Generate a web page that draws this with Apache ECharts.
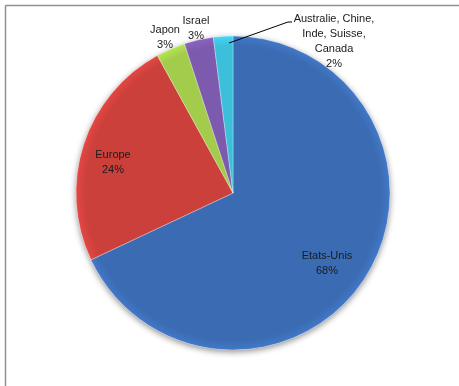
<!DOCTYPE html>
<html>
<head>
<meta charset="utf-8">
<script src="https://cdn.jsdelivr.net/npm/echarts@6/dist/echarts.min.js"></script>
<style>
  html, body { margin: 0; padding: 0; background: #fff; }
  #chart { width: 459px; height: 386px; }
</style>
</head>
<body>
<div id="chart"></div>
<script>
// données (parts en %)
var pays = ['Etats-Unis', 'Europe', 'Japon', 'Israel', 'Australie, Chine,\nInde, Suisse,\nCanada'];
var parts = [68, 24, 3, 3, 2];
var couleurs = ['#3b6cb3', '#cc403c', '#a3cc4c', '#7c5aad', '#3cc0da'];

// position des étiquettes (centre du texte)
var labelAt = [[327, 263], [113, 162], [165, 37], [196, 28], [334, 41]];

var cx = 233, cy = 193, R = 157;

var chart = echarts.init(document.getElementById('chart'));

var data = pays.map(function (p, i) {
  return {
    name: p,
    value: parts[i],
    itemStyle: {
      color: {
        type: 'radial', x: cx, y: cy, r: R, global: true,
        colorStops: [
          { offset: 0, color: couleurs[i] },
          { offset: 0.94, color: couleurs[i] },
          { offset: 1, color: echarts.color.lift(couleurs[i], -0.12) }
        ]
      }
    }
  };
});

var option = {
  animation: false,
  graphic: [
    { type: 'line', shape: { x1: 5.5, y1: 5.5, x2: 459, y2: 5.5 }, style: { stroke: '#8f8f8f', lineWidth: 1.5 } },
    { type: 'line', shape: { x1: 5.5, y1: 5.5, x2: 5.5, y2: 386 }, style: { stroke: '#8f8f8f', lineWidth: 1.5 } },
    // trait de rappel de l'étiquette "Australie, Chine..."
    { type: 'polyline', z: 10, shape: { points: [[229, 43], [288, 22], [292, 22]] }, style: { stroke: '#000', lineWidth: 1, fill: null } }
  ],
  series: [
    {
      // ombre portée sous le camembert
      type: 'pie',
      z: 1,
      silent: true,
      center: [cx, cy],
      radius: [0, R],
      startAngle: 90,
      data: parts.map(function (v) { return { value: v }; }),
      itemStyle: {
        color: '#fff',
        shadowBlur: 6,
        shadowOffsetY: 2,
        shadowColor: 'rgba(0,0,0,0.45)'
      },
      label: { show: false },
      labelLine: { show: false }
    },
    {
      type: 'pie',
      z: 2,
      center: [cx, cy],
      radius: [0, R],
      startAngle: 90,
      clockwise: true,
      data: data,
      itemStyle: {
        borderColor: 'rgba(255,255,255,0.3)',
        borderWidth: 1
      },
      label: {
        show: true,
        position: 'inside',
        formatter: '{b}\n{d}%',
        fontFamily: 'Liberation Sans',
        fontSize: 11,
        lineHeight: 15,
        color: '#1a1a1a',
        align: 'center'
      },
      labelLine: { show: false },
      labelLayout: function (params) {
        var p = labelAt[params.dataIndex];
        return { x: p[0], y: p[1], align: 'center', verticalAlign: 'middle' };
      }
    }
  ]
};

chart.setOption(option);
</script>
</body>
</html>
